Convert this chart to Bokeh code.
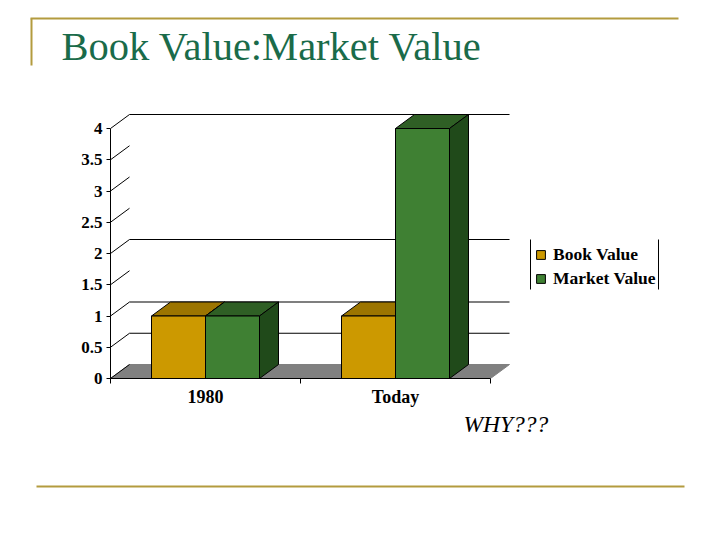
from bokeh.plotting import figure
from bokeh.layouts import column, row
from bokeh.embed import file_html
from bokeh.resources import INLINE
from bokeh.models import FixedTicker, Label, Legend, LegendItem

categories = ["1980", "Today"]
book_value = [1, 1]
market_value = [1, 4]
y_ticks = [0, 0.5, 1, 1.5, 2, 2.5, 3, 3.5, 4]
back_grid = [0.5, 1, 2, 4]
series_names = ["Book Value", "Market Value"]
title_text = "Book Value:Market Value"
note_text = "WHY???"

# page geometry, in pixels
W = 712
TOP_H, CHART_BOTTOM, PAGE_H = 90, 409, 532
PX0, PY0 = 110, 378
SX, SY = 190.0, 62.5
GOLD = "#b39b3f"
SERIF = "Liberation Serif"


def band(y0, y1):
    f = figure(width=W, height=y1 - y0, output_backend="svg", toolbar_location=None,
               x_range=(0, W), y_range=(y1, y0), x_axis_type=None, y_axis_type=None,
               min_border=0)
    f.outline_line_color = None
    f.grid.visible = False
    return f


# top band: gold rule and title
top = band(0, TOP_H)
top.segment(x0=[30, 31], y0=[18, 18], x1=[678, 31], y1=[18, 65], line_color=GOLD, line_width=2)
top.add_layout(Label(x=61, y=46, text=title_text, text_font=SERIF, text_font_size="40.5px",
                     text_color="#1a6b4a", text_baseline="alphabetic"))

# chart
p = figure(width=W, height=CHART_BOTTOM - TOP_H, output_backend="svg", toolbar_location=None,
           x_range=(0, (W - PX0) / SX), y_range=(0, (PY0 - TOP_H) / SY),
           min_border_left=PX0, min_border_right=0, min_border_top=0,
           min_border_bottom=CHART_BOTTOM - PY0)
p.outline_line_color = None
p.grid.visible = False

DEPTH_X, DEPTH_Y = 19 / SX, 14 / SY
BAR_W = 54 / SX

p.patch([0, DEPTH_X, 2 + DEPTH_X, 2], [0, DEPTH_Y, DEPTH_Y, 0],
        fill_color="#808080", line_color="#808080", line_width=1)
p.segment(x0=[0] * len(y_ticks), y0=y_ticks,
          x1=[DEPTH_X] * len(y_ticks), y1=[v + DEPTH_Y for v in y_ticks],
          line_color="black", line_width=1)
p.segment(x0=[DEPTH_X] * len(back_grid), y0=[v + DEPTH_Y for v in back_grid],
          x1=[2 + DEPTH_X] * len(back_grid), y1=[v + DEPTH_Y for v in back_grid],
          line_color="black", line_width=1.2)


def draw_3d(left, height, front, top_c, side_c):
    right = left + BAR_W
    p.patch([left, left + DEPTH_X, right + DEPTH_X, right],
            [height, height + DEPTH_Y, height + DEPTH_Y, height],
            fill_color=top_c, line_color="black", line_width=1)
    p.patch([right, right + DEPTH_X, right + DEPTH_X, right],
            [0, DEPTH_Y, height + DEPTH_Y, height],
            fill_color=side_c, line_color="black", line_width=1)
    return p.quad(left=[left], right=[right], bottom=[0], top=[height],
                  fill_color=front, line_color="black", line_width=1)


book_r, market_r = None, None
for i, cat in enumerate(categories):
    c = i + 0.5
    b = draw_3d(c - BAR_W, book_value[i], "#cc9900", "#9c7500", "#6e5200")
    m = draw_3d(c, market_value[i], "#3f8033", "#2f5f25", "#204a1a")
    book_r = book_r or b
    market_r = market_r or m

xa = p.xaxis[0]
xa.ticker = FixedTicker(ticks=[0.5, 1.5], minor_ticks=[0, 1, 2])
xa.major_label_overrides = {0.5: categories[0], 1.5: categories[1]}
xa.major_tick_in = 0
xa.major_tick_out = 0
xa.minor_tick_in = 0
xa.minor_tick_out = 5
xa.minor_tick_line_color = "black"
xa.bounds = (0, 2)
xa.major_label_standoff = 3
xa.major_label_text_font = SERIF
xa.major_label_text_font_style = "bold"
xa.major_label_text_font_size = "18px"
xa.major_label_text_color = "black"
xa.axis_line_color = "black"

ya = p.yaxis[0]
ya.ticker = FixedTicker(ticks=y_ticks)
ya.major_label_overrides = {0: "0", 1: "1", 2: "2", 3: "3", 4: "4"}
ya.minor_tick_line_color = None
ya.major_tick_in = 0
ya.major_tick_out = 4
ya.major_tick_line_color = "black"
ya.bounds = (0, 4)
ya.major_label_standoff = 4
ya.major_label_text_font = SERIF
ya.major_label_text_font_style = "bold"
ya.major_label_text_font_size = "17px"
ya.major_label_text_color = "black"
ya.axis_line_color = "black"

legend = Legend(items=[LegendItem(label=series_names[0], renderers=[book_r]),
                       LegendItem(label=series_names[1], renderers=[market_r])],
                location=(425, 89), orientation="vertical",
                border_line_color=None, background_fill_alpha=0,
                label_text_font=SERIF, label_text_font_style="bold",
                label_text_font_size="17.5px", label_text_color="black",
                glyph_width=11, glyph_height=11, spacing=3, padding=5,
                label_standoff=7, margin=0)
p.add_layout(legend, "center")
lx0, lx1 = (530 - PX0) / SX, (658 - PX0) / SX
ly0, ly1 = (PY0 - 239) / SY, (PY0 - 289) / SY
p.segment(x0=[lx0, lx1], y0=[ly0, ly0], x1=[lx0, lx1], y1=[ly1, ly1],
          line_color="black", line_width=1)

# bottom band: note and gold rule
bottom = band(CHART_BOTTOM, PAGE_H)
bottom.segment(x0=[36], y0=[486], x1=[684], y1=[486], line_color=GOLD, line_width=2)
bottom.add_layout(Label(x=463, y=423, text=note_text, text_font=SERIF, text_font_style="italic",
                        text_font_size="23.5px", text_color="black", text_baseline="alphabetic"))

page = column(row(top), p, row(bottom), spacing=0)
open("out.html", "w").write(file_html(page, INLINE))
